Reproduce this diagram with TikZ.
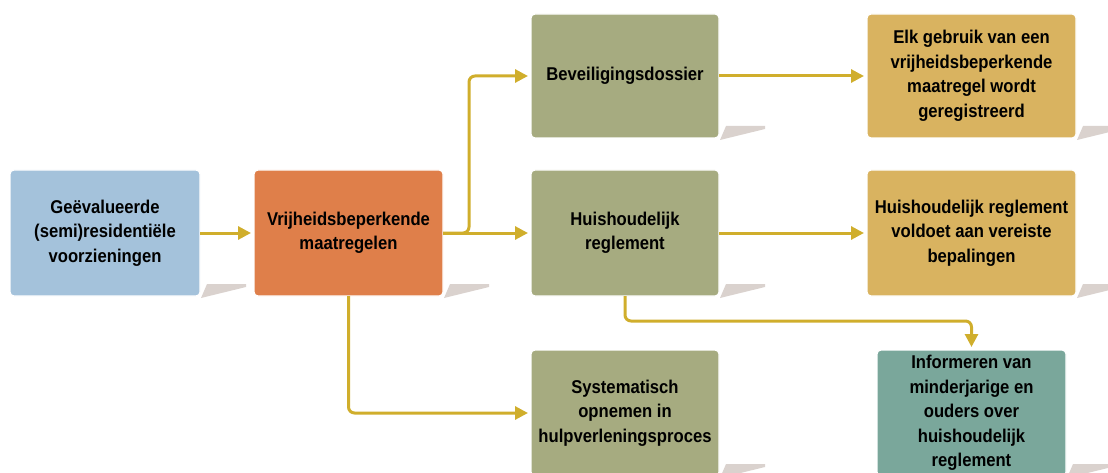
\documentclass[tikz,border=0pt]{standalone}
\usepackage{fontspec}
\setmainfont{Liberation Sans}[FakeStretch=0.9]
\usetikzlibrary{arrows.meta}

\definecolor{boxblue}{HTML}{A4C2DB}
\definecolor{boxorange}{HTML}{DF7F4A}
\definecolor{boxgreen}{HTML}{A6AB80}
\definecolor{boxyellow}{HTML}{D9B360}
\definecolor{boxteal}{HTML}{7AA79B}
\definecolor{shadowgray}{HTML}{DAD2CE}
\definecolor{flowgold}{HTML}{D0AE2C}

\tikzset{
  panel/.style={draw=white, line width=1.2pt, rounded corners=4pt,
    anchor=north west, inner sep=2pt, outer sep=0pt, align=center,
    font=\fontsize{18.5}{24.5}\selectfont\bfseries, text=black},
  flow/.style={draw=flowgold, line width=3pt, rounded corners=6pt,
    -{Triangle[length=13pt,width=13pt]}, shorten >=3pt},
}

% box with a slanted drop shadow at its lower right corner
% #1 name, #2 x, #3 y, #4 width, #5 height, #6 fill, #7 text
\newcommand{\flowpanel}[7]{%
  \fill[shadowgray] (#2+#4+1,#3+#5+2) -- (#2+#4+7,#3+#5-12)
    -- (#2+#4+46,#3+#5-12) -- (#2+#4+46,#3+#5-9) -- cycle;
  \node[panel, fill=#6, minimum width=#4pt, minimum height=#5pt] (#1) at (#2,#3) {#7};
}

\begin{document}
\begin{tikzpicture}[x=1pt, y=-1pt]
\clip (0,0) rectangle (1108,473);

\flowpanel{geval}{10}{170}{190}{126}{boxblue}{Geëvalueerde\\(semi)residentiële\\voorzieningen}
\flowpanel{vrij}{254}{170}{189}{126}{boxorange}{Vrijheidsbeperkende\\maatregelen}
\flowpanel{bev}{531}{14}{188}{124}{boxgreen}{Beveiligingsdossier}
\flowpanel{huis}{531}{170}{188}{126}{boxgreen}{Huishoudelijk\\reglement}
\flowpanel{sys}{531}{350}{188}{126}{boxgreen}{Systematisch\\opnemen in\\hulpverleningsproces}
\flowpanel{elk}{867}{14}{209}{124}{boxyellow}{Elk gebruik van een\\vrijheidsbeperkende\\maatregel wordt\\geregistreerd}
\flowpanel{regl}{867}{170}{209}{126}{boxyellow}{Huishoudelijk reglement\\voldoet aan vereiste\\bepalingen}
\flowpanel{info}{877}{350}{189}{126}{boxteal}{Informeren van\\minderjarige en\\ouders over\\huishoudelijk\\reglement}

\draw[flow] (geval.east) -- (vrij.west);
\draw[flow] (vrij.east) -- (huis.west);
\draw[flow] (vrij.east) -- ++(26,0) |- (bev.west);
\draw[flow] (vrij.south) |- (sys.west);
\draw[flow] (bev.east) -- (elk.west);
\draw[flow] (huis.east) -- (regl.west);
\draw[flow] (huis.south) -- ++(0,25) -| (info.north);
\end{tikzpicture}
\end{document}
